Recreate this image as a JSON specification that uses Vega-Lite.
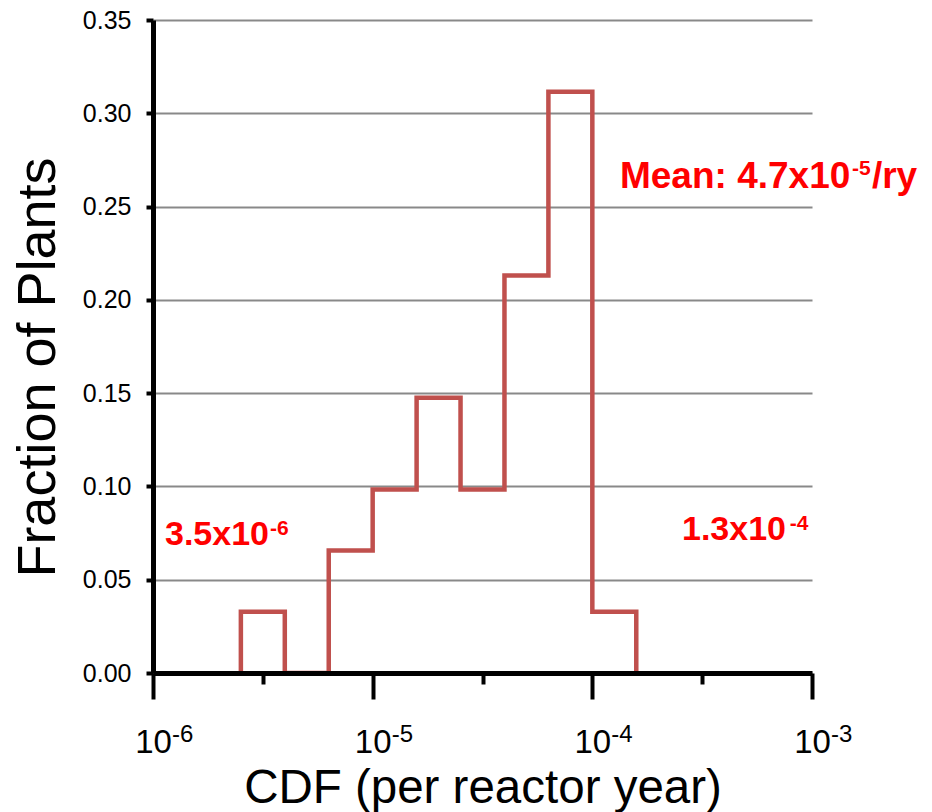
{
  "$schema": "https://vega.github.io/schema/vega-lite/v6.json",
  "width": 659,
  "height": 653,
  "autosize": "none",
  "padding": {"left": 153, "top": 20, "right": 120, "bottom": 139},
  "background": "white",
  "config": {"view": {"stroke": null}, "font": "Liberation Sans"},
  "datasets": {
    "outline": [
      {"i": 0, "cdf": 2.512e-6, "fraction": 0},
      {"i": 1, "cdf": 2.512e-6, "fraction": 0.0328},
      {"i": 2, "cdf": 3.981e-6, "fraction": 0},
      {"i": 3, "cdf": 6.310e-6, "fraction": 0.0656},
      {"i": 4, "cdf": 1.0e-5, "fraction": 0.0984},
      {"i": 5, "cdf": 1.585e-5, "fraction": 0.1475},
      {"i": 6, "cdf": 2.512e-5, "fraction": 0.0984},
      {"i": 7, "cdf": 3.981e-5, "fraction": 0.2131},
      {"i": 8, "cdf": 6.310e-5, "fraction": 0.3115},
      {"i": 9, "cdf": 1.0e-4, "fraction": 0.0328},
      {"i": 10, "cdf": 1.585e-4, "fraction": 0}
    ],
    "exponents": [
      {"cdf": 1e-6, "fraction": 0, "label": "-6"},
      {"cdf": 1e-5, "fraction": 0, "label": "-5"},
      {"cdf": 1e-4, "fraction": 0, "label": "-4"},
      {"cdf": 1e-3, "fraction": 0, "label": "-3"}
    ],
    "ranges": [
      {"cdf": 1.134e-6, "fraction": 0.0686, "label": "3.5x10"},
      {"cdf": 2.56e-4, "fraction": 0.0713, "label": "1.3x10"}
    ],
    "mean": [
      {"cdf": 1.336e-4, "fraction": 0.2599, "label": "Mean: 4.7x10"},
      {"cdf": 1.874e-3, "fraction": 0.2599, "label": "/ry"}
    ],
    "sups": [
      {"cdf": 3.407e-6, "fraction": 0.0740, "label": "-6"},
      {"cdf": 7.93e-4, "fraction": 0.0766, "label": "-4"},
      {"cdf": 1.519e-3, "fraction": 0.2669, "label": "-5"}
    ]
  },
  "layer": [
    {
      "data": {"name": "outline"},
      "mark": {"type": "line", "interpolate": "step-after", "color": "#C0504D", "strokeWidth": 4.5},
      "encoding": {
        "x": {
          "field": "cdf", "type": "quantitative",
          "scale": {"type": "log", "domain": [1e-6, 1e-3], "nice": false},
          "axis": {
            "title": "CDF (per reactor year)",
            "values": [1e-6, 3.1623e-6, 1e-5, 3.1623e-5, 1e-4, 3.1623e-4, 1e-3],
            "grid": false,
            "domainColor": "black", "domainWidth": 5,
            "tickColor": "black", "tickWidth": 4,
            "tickSize": {"condition": {"test": "abs(log(datum.value)/LN10 - round(log(datum.value)/LN10)) < 0.01", "value": 26}, "value": 11},
            "labelExpr": "abs(log(datum.value)/LN10 - round(log(datum.value)/LN10)) < 0.01 ? '10' : ''",
            "labelFontSize": 33, "labelBaseline": "alphabetic", "labelPadding": 53,
            "labelColor": "black", "labelFlush": false, "labelOverlap": false,
            "titleFontSize": 47.5, "titleFontWeight": "normal", "titleColor": "black",
            "titleBaseline": "alphabetic", "titleY": 129, "titleX": 329.5,
            "zindex": 1
          }
        },
        "y": {
          "field": "fraction", "type": "quantitative",
          "scale": {"domain": [0, 0.35], "nice": false},
          "axis": {
            "title": "Fraction of Plants",
            "values": [0, 0.05, 0.1, 0.15, 0.2, 0.25, 0.3, 0.35],
            "format": ".2f",
            "grid": true, "gridColor": "#898989", "gridWidth": 2,
            "domainColor": "black", "domainWidth": 5,
            "tickColor": "black", "tickWidth": 4, "tickSize": 7,
            "labelFontSize": 25, "labelColor": "black", "labelPadding": 15,
            "titleFontSize": 54, "titleFontWeight": "normal", "titleColor": "black",
            "titleAngle": 270, "titleBaseline": "alphabetic", "titleAlign": "center",
            "titleX": -99, "titleY": 347,
            "zindex": 0
          }
        },
        "order": {"field": "i", "type": "quantitative"}
      }
    },
    {
      "data": {"name": "exponents"},
      "mark": {"type": "text", "align": "left", "baseline": "alphabetic", "fontSize": 24, "color": "black", "dx": 19, "dy": 69},
      "encoding": {
        "x": {"field": "cdf", "type": "quantitative"},
        "y": {"field": "fraction", "type": "quantitative"},
        "text": {"field": "label"}
      }
    },
    {
      "data": {"name": "ranges"},
      "mark": {"type": "text", "align": "left", "baseline": "alphabetic", "fontWeight": "bold", "fontSize": 34, "color": "#FF0000"},
      "encoding": {
        "x": {"field": "cdf", "type": "quantitative"},
        "y": {"field": "fraction", "type": "quantitative"},
        "text": {"field": "label"}
      }
    },
    {
      "data": {"name": "mean"},
      "mark": {"type": "text", "align": "left", "baseline": "alphabetic", "fontWeight": "bold", "fontSize": 37, "color": "#FF0000"},
      "encoding": {
        "x": {"field": "cdf", "type": "quantitative"},
        "y": {"field": "fraction", "type": "quantitative"},
        "text": {"field": "label"}
      }
    },
    {
      "data": {"name": "sups"},
      "mark": {"type": "text", "align": "left", "baseline": "alphabetic", "fontWeight": "bold", "fontSize": 21, "color": "#FF0000"},
      "encoding": {
        "x": {"field": "cdf", "type": "quantitative"},
        "y": {"field": "fraction", "type": "quantitative"},
        "text": {"field": "label"}
      }
    }
  ]
}
